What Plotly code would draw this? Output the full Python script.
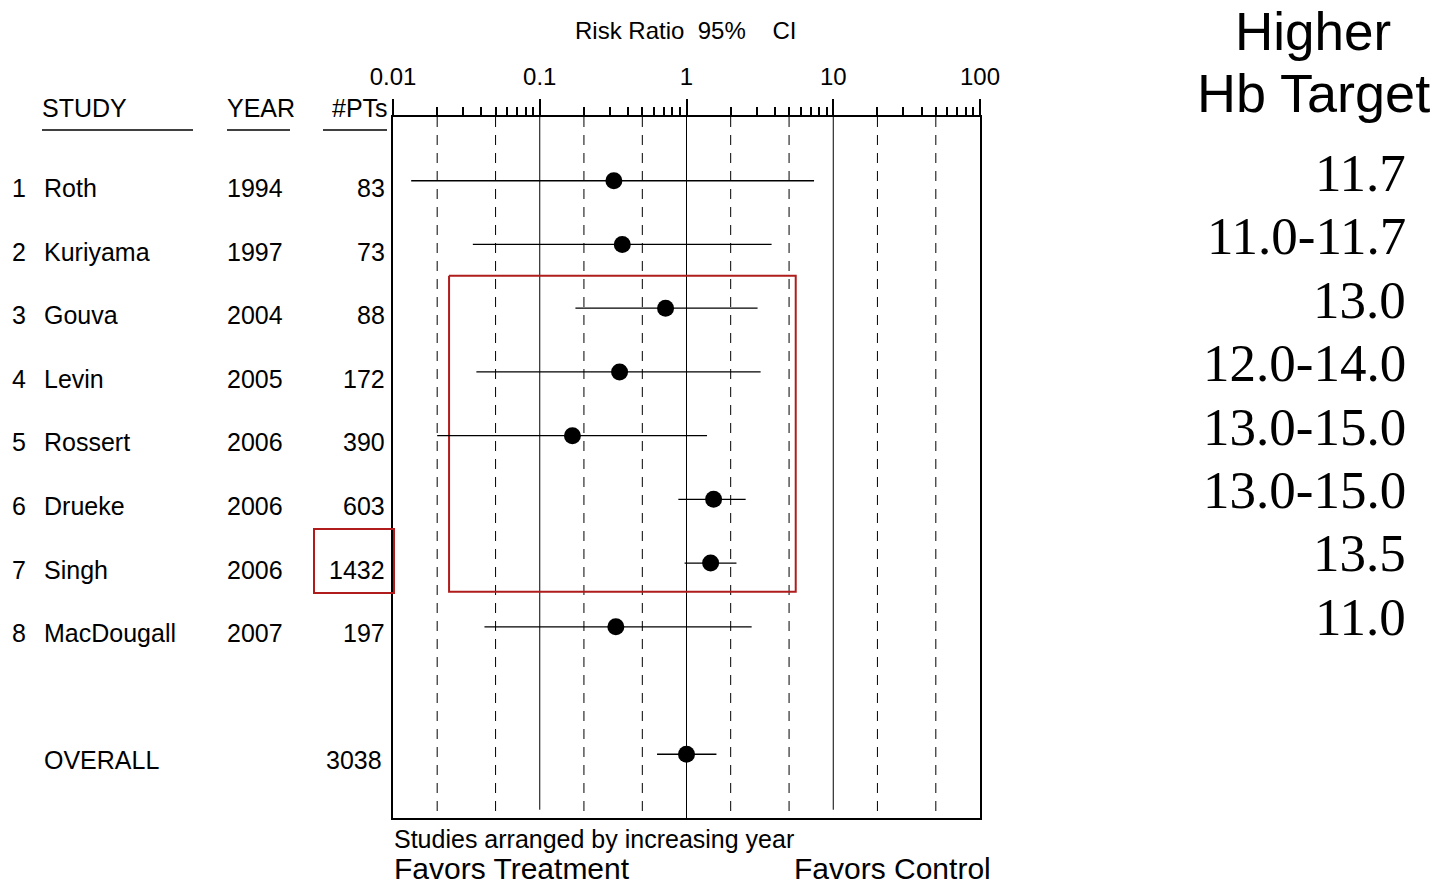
import plotly.graph_objects as go

W, H = 1437, 886

# ---------------- data ----------------
study_nums = ["1", "2", "3", "4", "5", "6", "7", "8"]
studies = ["Roth", "Kuriyama", "Gouva", "Levin", "Rossert", "Drueke", "Singh", "MacDougall"]
years = ["1994", "1997", "2004", "2005", "2006", "2006", "2006", "2007"]
patients = ["83", "73", "88", "172", "390", "603", "1432", "197"]
rr = [0.32, 0.365, 0.72, 0.35, 0.167, 1.53, 1.46, 0.33]
ci_low = [0.0133, 0.035, 0.175, 0.037, 0.020, 0.88, 0.97, 0.042]
ci_high = [7.4, 3.8, 3.05, 3.2, 1.38, 2.53, 2.19, 2.78]
rows = [1, 2, 3, 4, 5, 6, 7, 8]

overall_label = "OVERALL"
overall_pts = "3038"
overall_rr = 1.0
overall_low = 0.63
overall_high = 1.6
overall_row = 10

hb_targets = ["11.7", "11.0-11.7", "13.0", "12.0-14.0", "13.0-15.0", "13.0-15.0", "13.5", "11.0"]

major_ticks = [0.01, 0.1, 1, 10, 100]
major_labels = ["0.01", "0.1", "1", "10", "100"]
minor_ticks = [m * 10 ** e for e in (-2, -1, 0, 1) for m in range(2, 10)]
dashed_refs = [0.02, 0.05, 0.2, 0.5, 2, 5, 20, 50]
solid_refs = [0.1, 10]
null_ref = 1

box_x = [0.0241, 5.55]
box_y = [2.49, 7.45]

SANS = "Liberation Sans, Arial, sans-serif"
SERIF = "Liberation Serif, Times New Roman, serif"

# ---------------- geometry helpers ----------------
PL, PR, PT, PB = 393, 980, 117, 818
def px(x):
    return x / W
def py(y):
    return 1 - y / H

fig = go.Figure()

# reference lines
for v in dashed_refs:
    fig.add_trace(go.Scatter(x=[v, v], y=[0, 11], mode="lines",
                             line=dict(color="black", width=1, dash="10px,8px"),
                             hoverinfo="skip", showlegend=False))
for v in solid_refs:
    fig.add_trace(go.Scatter(x=[v, v], y=[0, 10.87], mode="lines",
                             line=dict(color="black", width=1),
                             hoverinfo="skip", showlegend=False))
fig.add_trace(go.Scatter(x=[null_ref, null_ref], y=[0, 11], mode="lines",
                         line=dict(color="black", width=1),
                         hoverinfo="skip", showlegend=False))

# red highlight box
fig.add_trace(go.Scatter(x=[box_x[0], box_x[1], box_x[1], box_x[0], box_x[0]],
                         y=[box_y[0], box_y[0], box_y[1], box_y[1], box_y[0]],
                         mode="lines", line=dict(color="#b01c1c", width=2),
                         hoverinfo="skip", showlegend=False))

# studies
all_rr = rr + [overall_rr]
all_lo = ci_low + [overall_low]
all_hi = ci_high + [overall_high]
all_rows = rows + [overall_row]
fig.add_trace(go.Scatter(
    x=all_rr, y=all_rows, mode="markers",
    marker=dict(color="black", size=17, symbol="circle", line=dict(width=0)),
    error_x=dict(type="data", symmetric=False,
                 array=[h - r for h, r in zip(all_hi, all_rr)],
                 arrayminus=[r - l for l, r in zip(all_lo, all_rr)],
                 width=0, thickness=1.3, color="black"),
    showlegend=False))

# invisible trace for minor tick axis
fig.add_trace(go.Scatter(x=[1], y=[1], xaxis="x2", mode="markers",
                         marker=dict(opacity=0), hoverinfo="skip", showlegend=False))

xdom = [px(PL), px(PR)]
ydom = [py(PB), py(PT)]

fig.update_layout(
    template="none",
    width=W, height=H,
    margin=dict(l=0, r=0, t=0, b=0, pad=0, autoexpand=False),
    paper_bgcolor="white", plot_bgcolor="white",
    showlegend=False,
    xaxis=dict(type="log", range=[-2, 2], domain=xdom, side="top", automargin=False,
               tickvals=major_ticks, ticktext=major_labels,
               ticks="outside", ticklen=16, tickwidth=1.5, tickcolor="black",
               showgrid=False, zeroline=False,
               showline=True, linewidth=2, linecolor="black", mirror=True,
               tickfont=dict(family=SANS, size=24, color="black"),
               ticklabelstandoff=4),
    xaxis2=dict(type="log", range=[-2, 2], overlaying="x", anchor="y", side="top",
                automargin=False,
                tickvals=minor_ticks, showticklabels=False,
                ticks="outside", ticklen=9, tickwidth=1.5, tickcolor="black",
                showgrid=False, zeroline=False, showline=False),
    yaxis=dict(range=[11, 0], domain=ydom, showticklabels=False, ticks="",
               automargin=False,
               showgrid=False, zeroline=False,
               showline=True, linewidth=2, linecolor="black", mirror=True),
)

ann = []
def text(x, y, s, size=25, anchor="left", family=SANS, yanchor="middle"):
    ann.append(dict(x=px(x), y=py(y), xref="paper", yref="paper", text=s,
                    showarrow=False, xanchor=anchor, yanchor=yanchor,
                    font=dict(family=family, size=size, color="black")))

# title
text(685, 30, "Risk Ratio&nbsp;&nbsp;95%&nbsp;&nbsp;&nbsp;&nbsp;CI", size=24, anchor="center")

# headers
text(40, 108, "STUDY")
text(225, 108, "YEAR")
text(390, 108, "#PTs", anchor="right")

# rows
for i in range(len(studies)):
    yy = 182 + (rows[i] - 1) * 63.6 + 6
    text(10, yy, study_nums[i])
    text(42, yy, studies[i])
    text(225, yy, years[i])
    text(387, yy, patients[i], anchor="right")
yo = 182 + (overall_row - 1) * 63.6 + 6
text(42, yo, overall_label)
text(384, yo, overall_pts, anchor="right")

# bottom labels
text(392, 839, "Studies arranged by increasing year", size=25)
text(392, 868, "Favors Treatment", size=30)
text(993, 868, "Favors Control", size=30, anchor="right")

# right-hand column
text(1313, 0, "Higher", size=53, anchor="center", yanchor="top")
text(1313, 93, "Hb Target", size=54, anchor="center")
for i, t in enumerate(hb_targets):
    yy = 173 + (rows[i] - 1) * 63.4
    text(1408, yy, t, size=53, anchor="right", family=SERIF)

fig.update_layout(annotations=ann)

# underlines and small red box (paper coordinates)
shapes = []
for x0, x1 in [(42, 193), (227, 290), (323, 387)]:
    shapes.append(dict(type="line", xref="paper", yref="paper",
                       x0=px(x0), x1=px(x1), y0=py(130), y1=py(130),
                       line=dict(color="black", width=1.5)))
shapes.append(dict(type="rect", xref="paper", yref="paper",
                   x0=px(314), x1=px(394), y0=py(529), y1=py(593),
                   line=dict(color="#b01c1c", width=2)))
fig.update_layout(shapes=shapes)

fig.write_html("out.html")
